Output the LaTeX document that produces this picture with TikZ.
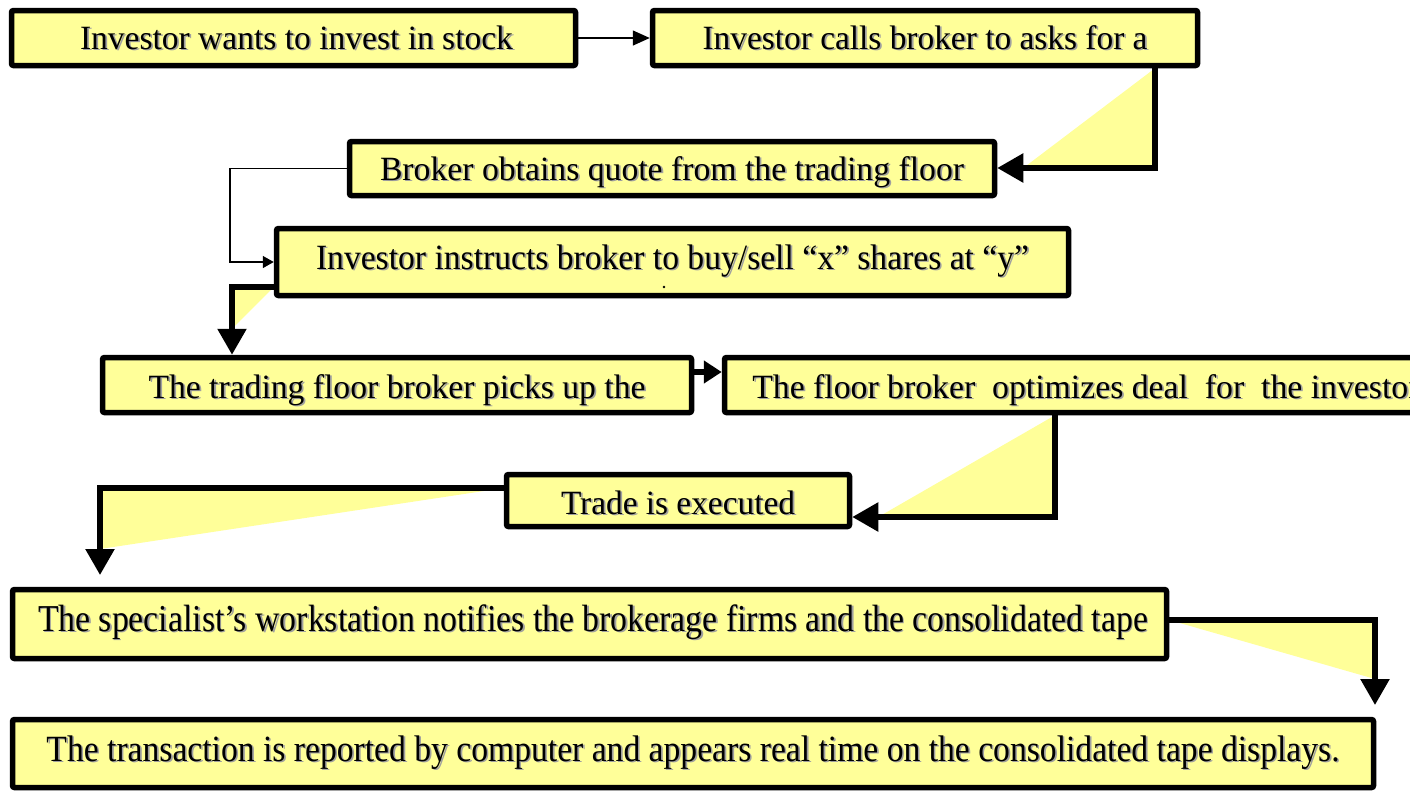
\documentclass[tikz,border=0pt]{standalone}
\usepackage{fontspec}
\setmainfont{Liberation Serif}
\newfontfamily\boxfont{Liberation Serif}
\usetikzlibrary{arrows.meta,calc}
\definecolor{boxyellow}{HTML}{FFFF99}
\definecolor{shadowgray}{HTML}{A0A0A0}
\newcommand\shd[1]{\makebox[0pt][l]{\hspace{1.8pt}\raisebox{-1.8pt}{\textcolor{shadowgray}{#1}}}#1}
\newcommand\fitx[3]{\sbox0{#2}\pgfmathsetmacro\myscale{#1/\wd0}\scalebox{\myscale}[1]{\shd{#2#3}}}
\tikzset{
  stepbox/.style={draw=black, fill=boxyellow, line width=5.5pt, rounded corners=2pt,
    inner sep=0pt, text depth=0pt, font=\boxfont\fontsize{34}{40}\selectfont},
  flow/.style={line width=5.5pt, -{Triangle[length=26pt,width=28pt]}},
  shortflow/.style={line width=5.5pt, -{Triangle[length=18pt,width=22pt]}},
  thinflow/.style={line width=1.5pt, -{Triangle[length=17pt,width=15pt]}},
  thinflowsmall/.style={line width=1.5pt, -{Triangle[length=11pt,width=12pt]}},
  wedge/.style={fill=boxyellow}
}
\begin{document}
\begin{tikzpicture}[x=1pt,y=-1pt]
\useasboundingbox (0,0) rectangle (1410,793);
\clip (0,0) rectangle (1410,793);
% boxes
\node[stepbox, minimum width=564pt, minimum height=55pt, text height=22pt] (b1) at (293.5,38)
  {\hspace{6pt}\fitx{433}{Investor wants to invest in stock}{}};
\node[stepbox, minimum width=545pt, minimum height=55pt, text height=22pt] (b2) at (925,38)
  {\fitx{445}{Investor calls broker to asks for a}{}};
\node[stepbox, minimum width=645pt, minimum height=54pt, text height=23pt] (b3) at (672,168.5)
  {\fitx{584}{Broker obtains quote from the trading floor}{}};
\node[stepbox, minimum width=792pt, minimum height=67pt, text height=14pt, font=\boxfont\fontsize{35.5}{40}\selectfont] (b4) at (672.5,262)
  {\fitx{713}{Investor instructs broker to buy/sell “x” shares at “y”}{}};
\node[stepbox, minimum width=589pt, minimum height=55pt, text height=26pt] (b5) at (397,385)
  {\fitx{497}{The trading floor broker picks up the}{}};
\node[stepbox, minimum width=715.5pt, minimum height=55pt, text height=26pt] (b6) at (1082.25,385)
  {\makebox[715pt][l]{\hspace{27.5pt}\fitx{656}{The floor broker\ \ optimizes deal\ \ for\ \ the investo}{r}}};
\node[stepbox, minimum width=343pt, minimum height=52pt, text height=27pt] (b7) at (678,500.5)
  {\fitx{234}{Trade is executed}{}};
\node[stepbox, minimum width=1154pt, minimum height=69pt, text height=14pt, font=\boxfont\fontsize{38}{44}\selectfont] (b8) at (589.5,624)
  {\hspace{7pt}\fitx{1110}{The specialist’s workstation notifies the brokerage firms and the consolidated tape}{}};
\node[stepbox, minimum width=1361pt, minimum height=68pt, text height=15pt, font=\boxfont\fontsize{37}{44}\selectfont] (b9) at (693,753.5)
  {\fitx{1293}{The transaction is reported by computer and appears real time on the consolidated tape displays.}{}};
\fill (664,287) circle (1.3pt);
% bend points
\coordinate (c23) at (1155,168);
\coordinate (c34) at (230,262);
\coordinate (c45) at (232,287);
\coordinate (c56) at (700,372);
\coordinate (c67) at (1055,517);
\coordinate (c78) at (100,488);
\coordinate (t78) at (100,575);
\coordinate (c89) at (1375,620);
\coordinate (t89) at (1375,705);
% wedges
\fill[wedge] (c23 |- b2.south) -- (c23) -- ($(c23 -| b3.east)+(26,0)$) -- cycle;
\fill[wedge] (c45 -| b4.west) -- (c45) -- ($(c45 |- b5.north)+(0,-26)$) -- cycle;
\fill[wedge] (c67 |- b6.south) -- (c67) -- ($(c67 -| b7.east)+(26,0)$) -- cycle;
\fill[wedge] (c78 -| b7.west) -- (c78) -- ($(t78)+(0,-26)$) -- cycle;
\fill[wedge] (c89 -| b8.east) -- (c89) -- ($(t89)+(0,-26)$) -- cycle;
% connectors
\draw[thinflow] (b1.east) -- (b2.west);
\draw[flow] (c23 |- b2.south) -- (c23) -- (c23 -| b3.east);
\draw[thinflowsmall] (b3.west) -| (c34) -- (b4.west);
\draw[flow] (c45 -| b4.west) -- (c45) -- (c45 |- b5.north);
\draw[shortflow] (c56 -| b5.east) -- (c56 -| b6.west);
\draw[flow] (c67 |- b6.south) -- (c67) -- (c67 -| b7.east);
\draw[flow] (c78 -| b7.west) -- (c78) -- (t78);
\draw[flow] (c89 -| b8.east) -- (c89) -- (t89);
\end{tikzpicture}
\end{document}
